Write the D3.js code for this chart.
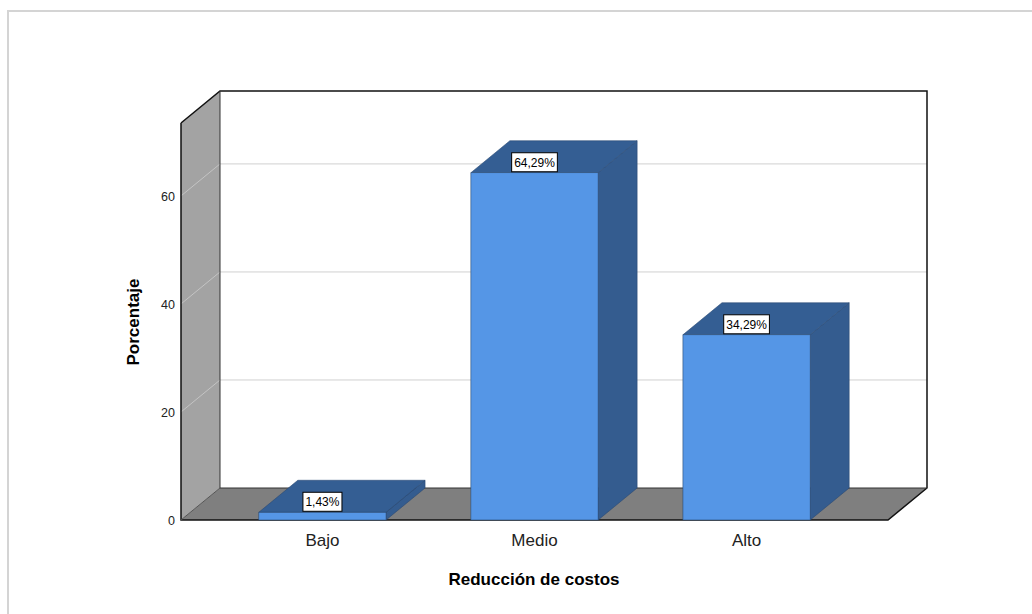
<!DOCTYPE html>
<html>
<head>
<meta charset="utf-8">
<script src="https://cdn.jsdelivr.net/npm/d3@7"></script>
<style>
  body { margin: 0; background: #fff; }
  svg { font-family: Arial, "Liberation Sans", sans-serif; }
</style>
</head>
<body>
<svg width="1032" height="614"></svg>
<script>
const categorias = ['Bajo', 'Medio', 'Alto'];
const porcentajes = [1.43, 64.29, 34.29];
const etiquetas = ['1,43%', '64,29%', '34,29%'];
const ticksY = [0, 20, 40, 60];

const svg = d3.select('svg');

// marco del visor
svg.append('rect')
  .attr('x', 8).attr('y', 11)
  .attr('width', 1040).attr('height', 620)
  .attr('fill', 'none')
  .attr('stroke', '#d4d4d4')
  .attr('stroke-width', 2);

// ---- geometria 3D
const frente = { left: 181, right: 888, bottom: 520 };
const dx = 39, dy = -32;

const y = d3.scaleLinear()
  .domain([0, 73.5])
  .range([frente.bottom, 123]);

const x = d3.scaleBand()
  .domain(categorias)
  .range([frente.left, frente.right])
  .paddingInner(0.4)
  .paddingOuter(0.367);

const poly = pts => pts.map(p => p.join(',')).join(' ');
const yTop = y(y.domain()[1]);

// pared izquierda
svg.append('polygon')
  .attr('points', poly([[frente.left, frente.bottom], [frente.left, yTop], [frente.left + dx, yTop + dy], [frente.left + dx, frente.bottom + dy]]))
  .attr('fill', '#a3a3a3');

// pared del fondo
svg.append('rect')
  .attr('x', frente.left + dx).attr('y', yTop + dy)
  .attr('width', frente.right - frente.left).attr('height', frente.bottom - yTop)
  .attr('fill', '#fff');

// lineas de cuadricula
ticksY.filter(t => t > 0).forEach(t => {
  svg.append('line')
    .attr('x1', frente.left).attr('y1', y(t))
    .attr('x2', frente.left + dx).attr('y2', y(t) + dy)
    .attr('stroke', '#c4c4c4').attr('stroke-width', 1);
  svg.append('line')
    .attr('x1', frente.left + dx).attr('y1', y(t) + dy)
    .attr('x2', frente.right + dx).attr('y2', y(t) + dy)
    .attr('stroke', '#d0d0d0').attr('stroke-width', 1);
});

// suelo
svg.append('polygon')
  .attr('points', poly([[frente.left, frente.bottom], [frente.right, frente.bottom], [frente.right + dx, frente.bottom + dy], [frente.left + dx, frente.bottom + dy]]))
  .attr('fill', '#7f7f7f');

// bordes
const bordes = svg.append('g')
  .attr('fill', 'none')
  .attr('stroke', '#111')
  .attr('stroke-width', 1.5);
bordes.append('polyline')
  .attr('points', poly([[frente.left, yTop], [frente.left, frente.bottom], [frente.right, frente.bottom], [frente.right + dx, frente.bottom + dy], [frente.right + dx, yTop + dy], [frente.left + dx, yTop + dy], [frente.left, yTop]]));
bordes.append('polyline')
  .attr('points', poly([[frente.left + dx, yTop + dy], [frente.left + dx, frente.bottom + dy], [frente.right + dx, frente.bottom + dy]]))
  .attr('stroke-width', 1).attr('stroke', '#333');
bordes.append('line')
  .attr('x1', frente.left).attr('y1', frente.bottom)
  .attr('x2', frente.left + dx).attr('y2', frente.bottom + dy)
  .attr('stroke-width', 1).attr('stroke', '#555');

// ---- barras
const datos = categorias.map((c, i) => ({ cat: c, val: porcentajes[i], lab: etiquetas[i] }));
const barras = svg.append('g').selectAll('g').data(datos).enter().append('g');

barras.append('polygon')
  .attr('points', d => {
    const x0 = x(d.cat), x1 = x0 + x.bandwidth(), yt = y(d.val);
    return poly([[x1, yt], [x1 + dx, yt + dy], [x1 + dx, frente.bottom + dy], [x1, frente.bottom]]);
  })
  .attr('fill', '#345c8f').attr('stroke', '#2a4a73').attr('stroke-width', 0.6);

barras.append('polygon')
  .attr('points', d => {
    const x0 = x(d.cat), x1 = x0 + x.bandwidth(), yt = y(d.val);
    return poly([[x0, yt], [x1, yt], [x1 + dx, yt + dy], [x0 + dx, yt + dy]]);
  })
  .attr('fill', '#345e93').attr('stroke', '#2a4a73').attr('stroke-width', 0.6);

barras.append('rect')
  .attr('x', d => x(d.cat))
  .attr('y', d => y(d.val))
  .attr('width', x.bandwidth())
  .attr('height', d => frente.bottom - y(d.val))
  .attr('fill', '#5596e6').attr('stroke', '#2a4a73').attr('stroke-width', 0.6);

// etiquetas de valor
barras.each(function (d) {
  const g = d3.select(this);
  const cx = x(d.cat) + x.bandwidth() / 2;
  const t = g.append('text')
    .attr('x', cx).attr('y', y(d.val) - 6)
    .attr('text-anchor', 'middle')
    .style('font-size', '12px')
    .attr('fill', '#000')
    .text(d.lab);
  const w = t.node().getComputedTextLength() + 5;
  g.insert('rect', 'text')
    .attr('x', cx - w / 2).attr('y', y(d.val) - 20)
    .attr('width', w).attr('height', 19)
    .attr('fill', '#fff').attr('stroke', '#000').attr('stroke-width', 1);
});

// ---- ejes
svg.append('g').selectAll('text').data(ticksY).enter().append('text')
  .attr('x', 175).attr('y', d => y(d) + 5)
  .attr('text-anchor', 'end')
  .style('font-size', '12.5px')
  .attr('fill', '#222')
  .text(d => d);

svg.append('g').selectAll('text').data(categorias).enter().append('text')
  .attr('x', d => x(d) + x.bandwidth() / 2)
  .attr('y', 546)
  .attr('text-anchor', 'middle')
  .style('font-size', '17px')
  .attr('fill', '#222')
  .text(d => d);

svg.append('text')
  .attr('x', 534).attr('y', 585)
  .attr('text-anchor', 'middle')
  .style('font-size', '17px').style('font-weight', 'bold')
  .text('Reducción de costos');

svg.append('text')
  .attr('transform', 'translate(139, 322) rotate(-90)')
  .attr('text-anchor', 'middle')
  .style('font-size', '17px').style('font-weight', 'bold')
  .text('Porcentaje');
</script>
</body>
</html>
